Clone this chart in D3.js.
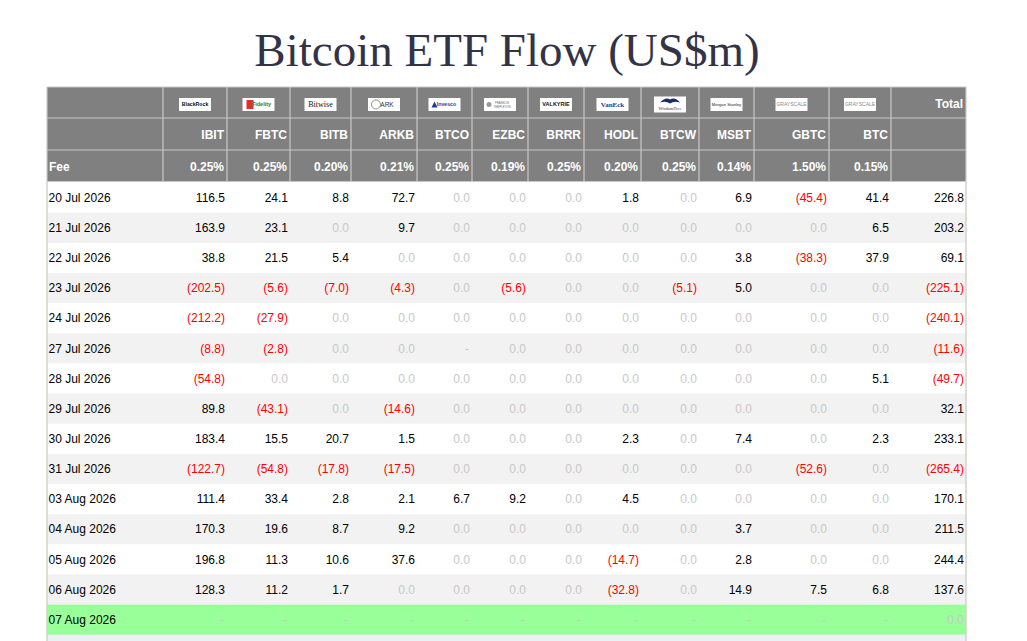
<!DOCTYPE html>
<html>
<head>
<meta charset="utf-8">
<script src="https://cdn.jsdelivr.net/npm/d3@7/dist/d3.min.js"></script>
<style>
  html, body { margin: 0; padding: 0; background: #ffffff; }
  svg { display: block; }
</style>
</head>
<body>
<svg id="chart" width="1027" height="641"></svg>
<script>
// ---------- DATA ----------
const title = "Bitcoin ETF Flow (US$m)";
const tickers = ["IBIT","FBTC","BITB","ARKB","BTCO","EZBC","BRRR","HODL","BTCW","MSBT","GBTC","BTC"];
const issuers = ["BlackRock","Fidelity","Bitwise","ARK","Invesco","FRANKLIN TEMPLETON","VALKYRIE","VanEck","WisdomTree","Morgan Stanley","GRAYSCALE","GRAYSCALE"];
const fees = ["0.25%","0.25%","0.20%","0.21%","0.25%","0.19%","0.25%","0.20%","0.25%","0.14%","1.50%","0.15%"];
const dates = ["20 Jul 2026","21 Jul 2026","22 Jul 2026","23 Jul 2026","24 Jul 2026","27 Jul 2026","28 Jul 2026","29 Jul 2026","30 Jul 2026","31 Jul 2026","03 Aug 2026","04 Aug 2026","05 Aug 2026","06 Aug 2026","07 Aug 2026"];
// flows per date: IBIT..BTC (null = "-")
const flows = [
  [116.5, 24.1, 8.8, 72.7, 0, 0, 0, 1.8, 0, 6.9, -45.4, 41.4],
  [163.9, 23.1, 0, 9.7, 0, 0, 0, 0, 0, 0, 0, 6.5],
  [38.8, 21.5, 5.4, 0, 0, 0, 0, 0, 0, 3.8, -38.3, 37.9],
  [-202.5, -5.6, -7.0, -4.3, 0, -5.6, 0, 0, -5.1, 5.0, 0, 0],
  [-212.2, -27.9, 0, 0, 0, 0, 0, 0, 0, 0, 0, 0],
  [-8.8, -2.8, 0, 0, null, 0, 0, 0, 0, 0, 0, 0],
  [-54.8, 0, 0, 0, 0, 0, 0, 0, 0, 0, 0, 5.1],
  [89.8, -43.1, 0, -14.6, 0, 0, 0, 0, 0, 0, 0, 0],
  [183.4, 15.5, 20.7, 1.5, 0, 0, 0, 2.3, 0, 7.4, 0, 2.3],
  [-122.7, -54.8, -17.8, -17.5, 0, 0, 0, 0, 0, 0, -52.6, 0],
  [111.4, 33.4, 2.8, 2.1, 6.7, 9.2, 0, 4.5, 0, 0, 0, 0],
  [170.3, 19.6, 8.7, 9.2, 0, 0, 0, 0, 0, 3.7, 0, 0],
  [196.8, 11.3, 10.6, 37.6, 0, 0, 0, -14.7, 0, 2.8, 0, 0],
  [128.3, 11.2, 1.7, 0, 0, 0, 0, -32.8, 0, 14.9, 7.5, 6.8],
  [null, null, null, null, null, null, null, null, null, null, null, null]
];
const totals = [226.8, 203.2, 69.1, -225.1, -240.1, -11.6, -49.7, 32.1, 233.1, -265.4, 170.1, 211.5, 244.4, 137.6, 0.0];

// ---------- LAYOUT ----------
const colKeys = ["Date"].concat(tickers, ["Total"]);
const colWidths = [116, 64, 63, 61, 66, 55, 56, 56, 57, 58, 55, 75, 62, 75];
const tableLeft = 47;
const edges = [tableLeft];
colWidths.forEach(w => edges.push(edges[edges.length - 1] + w));
const x0 = d3.scaleOrdinal().domain(colKeys).range(edges.slice(0, -1));
const x1 = d3.scaleOrdinal().domain(colKeys).range(edges.slice(1));
const tableRight = edges[edges.length - 1];

const headTop = 87;
const headRows = [87, 118, 150, 181.5];
const rowTop = 182.5, rowH = 30.15;
const y = d3.scaleBand().domain(dates).range([rowTop, rowTop + rowH * dates.length]).padding(0);

const svg = d3.select("#chart");
const font = "'Liberation Sans', Arial, Helvetica, sans-serif";

// title
svg.append("text")
  .attr("x", 507).attr("y", 65.5)
  .attr("text-anchor", "middle")
  .attr("font-family", "'Liberation Serif', 'Times New Roman', serif")
  .attr("font-size", 47)
  .attr("fill", "#333347")
  .text(title);

// ---------- HEADER ----------
const head = svg.append("g");
head.append("rect")
  .attr("x", tableLeft).attr("y", headTop)
  .attr("width", tableRight - tableLeft).attr("height", headRows[3] - headTop)
  .attr("fill", "#808080");
headRows.forEach(hy => head.append("line")
  .attr("x1", tableLeft).attr("x2", tableRight).attr("y1", hy).attr("y2", hy)
  .attr("stroke", "#c8c8c8").attr("stroke-width", 1.2));
edges.forEach(ex => head.append("line")
  .attr("x1", ex).attr("x2", ex).attr("y1", headTop).attr("y2", headRows[3])
  .attr("stroke", "#c8c8c8").attr("stroke-width", 1.2));

// logos
const logoStyle = {
  "BlackRock": {fill: "#111", weight: "bold", size: 5.2, family: font},
  "Fidelity": {fill: "#2a7a3a", weight: "bold", size: 5.5, family: font},
  "Bitwise": {fill: "#111", weight: "normal", size: 8, family: "'Liberation Serif', serif"},
  "ARK": {fill: "#333", weight: "normal", size: 6.5, family: font},
  "Invesco": {fill: "#1a3fa0", weight: "bold", size: 5.2, family: font},
  "FRANKLIN TEMPLETON": {fill: "#666", weight: "normal", size: 2.6, family: font},
  "VALKYRIE": {fill: "#111", weight: "bold", size: 5.5, family: font},
  "VanEck": {fill: "#1a3f8a", weight: "bold", size: 7, family: "'Liberation Serif', serif"},
  "WisdomTree": {fill: "#1a2a6a", weight: "normal", size: 4.5, family: "'Liberation Serif', serif"},
  "Morgan Stanley": {fill: "#222", weight: "normal", size: 4.2, family: font},
  "GRAYSCALE": {fill: "#888", weight: "normal", size: 5, family: font}
};
const logos = head.selectAll("g.logo").data(tickers.map((t, i) => ({t, name: issuers[i]})))
  .enter().append("g").attr("class", "logo")
  .attr("transform", d => `translate(${(x0(d.t) + x1(d.t)) / 2},104.5)`);
logos.append("rect")
  .attr("x", -16).attr("y", d => d.name === "WisdomTree" ? -8 : -6.5)
  .attr("width", 32).attr("height", d => d.name === "WisdomTree" ? 16 : 13)
  .attr("fill", "#ffffff");
logos.each(function(d) {
  const g = d3.select(this);
  const st = logoStyle[d.name];
  let tx = 0;
  if (d.name === "Fidelity") {
    g.append("rect").attr("x", -12).attr("y", -4.5).attr("width", 7).attr("height", 9).attr("fill", "#d9342b");
    tx = 3;
  }
  if (d.name === "ARK") {
    g.append("circle").attr("cx", -8).attr("cy", 0).attr("r", 4.5).attr("fill", "none").attr("stroke", "#666").attr("stroke-width", 0.7);
    tx = 3;
  }
  if (d.name === "Invesco") {
    g.append("path").attr("d", "M-13,3 L-10,-3 L-7,3 Z").attr("fill", "#1a3fa0");
    tx = 2;
  }
  if (d.name === "FRANKLIN TEMPLETON") {
    g.append("circle").attr("cx", -11).attr("cy", 0).attr("r", 2.5).attr("fill", "#999");
    g.append("text").attr("x", 2).attr("y", -0.5).attr("text-anchor", "middle")
      .attr("font-family", font).attr("font-size", 2.8).attr("fill", "#666").text("FRANKLIN");
    g.append("text").attr("x", 2).attr("y", 3).attr("text-anchor", "middle")
      .attr("font-family", font).attr("font-size", 2.8).attr("fill", "#666").text("TEMPLETON");
    return;
  }
  if (d.name === "WisdomTree") {
    g.append("path").attr("d", "M-10,-2 Q-4,-8 0,-5 Q5,-8 10,-2 Q4,-4 0,-1 Q-4,-4 -10,-2 Z").attr("fill", "#1a2a6a");
    g.append("text").attr("x", 0).attr("y", 5.5).attr("text-anchor", "middle")
      .attr("font-family", st.family).attr("font-size", st.size).attr("fill", st.fill).text("WisdomTree");
    return;
  }
  g.append("text").attr("x", tx).attr("y", 0).attr("dy", "0.35em")
    .attr("text-anchor", "middle")
    .attr("font-family", st.family).attr("font-size", st.size)
    .attr("font-weight", st.weight).attr("fill", st.fill)
    .text(d.name);
});

// Total label
head.append("text")
  .attr("x", x1("Total") - 3).attr("y", 103.5).attr("dy", "0.35em")
  .attr("text-anchor", "end").attr("font-family", font).attr("font-size", 12)
  .attr("font-weight", "bold").attr("fill", "#ffffff").text("Total");

// ticker row
head.selectAll("text.tk").data(tickers).enter().append("text")
  .attr("class", "tk")
  .attr("x", d => x1(d) - 3).attr("y", 135).attr("dy", "0.35em")
  .attr("text-anchor", "end").attr("font-family", font).attr("font-size", 12)
  .attr("font-weight", "bold").attr("fill", "#ffffff").text(d => d);

// fee row
head.append("text")
  .attr("x", tableLeft + 2).attr("y", 166.5).attr("dy", "0.35em")
  .attr("font-family", font).attr("font-size", 12)
  .attr("font-weight", "bold").attr("fill", "#ffffff").text("Fee");
head.selectAll("text.fee").data(tickers.map((t, i) => ({t, f: fees[i]}))).enter().append("text")
  .attr("class", "fee")
  .attr("x", d => x1(d.t) - 3).attr("y", 166.5).attr("dy", "0.35em")
  .attr("text-anchor", "end").attr("font-family", font).attr("font-size", 12)
  .attr("font-weight", "bold").attr("fill", "#ffffff").text(d => d.f);

// ---------- BODY ----------
const body = svg.append("g");
const rows = body.selectAll("g.row").data(dates.map((d, i) => ({date: d, i, vals: flows[i], total: totals[i]})))
  .enter().append("g").attr("class", "row");

rows.append("rect")
  .attr("x", tableLeft).attr("y", d => y(d.date))
  .attr("width", tableRight - tableLeft).attr("height", y.bandwidth() + 0.3)
  .attr("fill", d => d.i === dates.length - 1 ? "#99ff99" : (d.i % 2 === 1 ? "#f2f2f2" : "#ffffff"));

rows.append("text")
  .attr("x", tableLeft + 1.5).attr("y", d => y(d.date) + y.bandwidth() / 2).attr("dy", "0.35em")
  .attr("font-family", font).attr("font-size", 12).attr("fill", "#000000")
  .text(d => d.date);

function fmt(v) {
  if (v === null) return "-";
  if (v < 0) return "(" + (-v).toFixed(1) + ")";
  return v.toFixed(1);
}
function col(v) {
  if (v === null || v === 0) return "#c8c8c8";
  if (v < 0) return "#ff0000";
  return "#000000";
}

rows.each(function(d) {
  const g = d3.select(this);
  const cells = tickers.map((t, j) => ({key: t, v: d.vals[j]})).concat([{key: "Total", v: d.total}]);
  g.selectAll("text.val").data(cells).enter().append("text")
    .attr("class", "val")
    .attr("x", c => (c.v === null ? x1(c.key) - 3 : x1(c.key) - 2))
    .attr("y", y(d.date) + y.bandwidth() / 2).attr("dy", "0.35em")
    .attr("text-anchor", "end")
    .attr("font-family", font).attr("font-size", 12)
    .attr("fill", c => col(c.v))
    .text(c => fmt(c.v));
});

// trailing band below table
const bottomY = rowTop + rowH * dates.length;
svg.append("rect").attr("x", tableLeft).attr("y", bottomY)
  .attr("width", tableRight - tableLeft).attr("height", 641 - bottomY)
  .attr("fill", "#eef0f9");

// side borders
[tableLeft, tableRight].forEach(ex => svg.append("line")
  .attr("x1", ex).attr("x2", ex).attr("y1", headRows[3]).attr("y2", 641)
  .attr("stroke", "#d6d2c8").attr("stroke-width", 1.5));
</script>
</body>
</html>
